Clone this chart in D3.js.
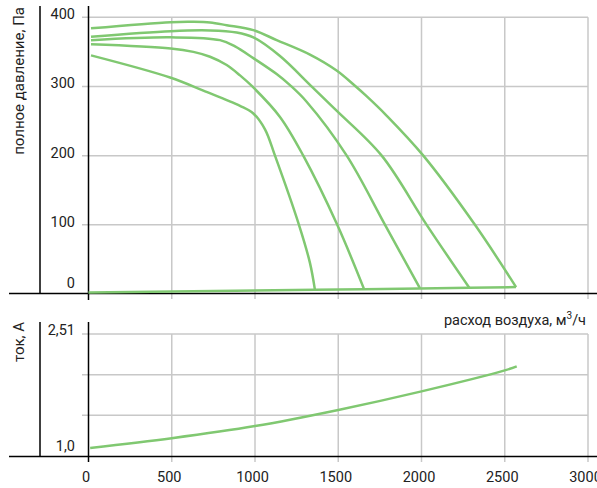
<!DOCTYPE html>
<html>
<head>
<meta charset="utf-8">
<script src="https://cdn.jsdelivr.net/npm/d3@7"></script>
<style>
  html, body { margin: 0; padding: 0; background: #fff; }
  svg { display: block; }
  text { font-family: Roboto, "Noto Sans", sans-serif; fill: #222; }
</style>
</head>
<body>
<svg id="chart" width="597" height="488"></svg>
<script>
// ---------- data ----------
const flowTicks = [0, 500, 1000, 1500, 2000, 2500, 3000];
const flowTickLabels = ["0", "500", "1000", "1500", "2000", "2500", "3000"];
const pressureTicks = [0, 100, 200, 300, 400];
const pressureTickLabels = ["0", "100", "200", "300", "400"];
const currentTicks = [1.0, 1.503, 2.007, 2.51];
const currentTickLabels = ["1,0", "", "", "2,51"];

// pressure curves: [airflow m3/h, total pressure Pa]
const curve1 = [[15,384],[494,393],[628,393.5],[730,392.5],[830,388.6],[990,381.4],[1130,367],[1330,346],[1490,323],[1600,301],[1670,286],[1790,258],[2011,200],[2321,100],[2568,10]];
const curve2 = [[15,372],[494,380],[730,381],[890,378],[990,371],[1150,344],[1336,301],[1490,265],[1761,200],[2031,100],[2287,9]];
const curve3 = [[15,367],[494,371],[790,367],[880,358],[990,341],[1130,318],[1210,302],[1310,278],[1551,200],[1781,100],[1991,8]];
const curve4 = [[15,361],[494,355],[630,350],[730,343],[830,331],[910,316],[984,300],[1150,256],[1290,200],[1494,100],[1655,7]];
const curve5 = [[15,345],[490,313],[690,294],[910,272],[990,261],[1060,238],[1120,200],[1264,100],[1330,45],[1360,6]];
const baseFlow = [0, 1360, 1655, 1991, 2287, 2568];
const basePressure = [2, 6, 7, 8, 9, 10];

// current curve
const currentFlow = [10, 500, 1000, 1500, 2000, 2500, 2572];
const currentAmps = [1.10, 1.22, 1.37, 1.57, 1.80, 2.06, 2.11];

// ---------- layout ----------
const svg = d3.select("#chart");
const green = "#80c871";
const gridColor = "#c8c8c8";

const x = d3.scaleLinear().domain([0, 3000]).range([88.5, 588]);
const yP = d3.scaleLinear().domain([0, 400]).range([294, 17.3]);
const yI = d3.scaleLinear().domain([1.0, 2.51]).range([456, 334]);

// ---------- top panel: grid ----------
const gTop = svg.append("g");
gTop.selectAll("line.hgrid").data(pressureTicks.filter(d => d > 0)).join("line")
  .attr("x1", 82).attr("x2", x(3000))
  .attr("y1", d => yP(d)).attr("y2", d => yP(d))
  .attr("stroke", gridColor).attr("stroke-width", 1.5);
gTop.selectAll("line.vgrid").data(flowTicks.filter(d => d > 0)).join("line")
  .attr("x1", d => x(d)).attr("x2", d => x(d))
  .attr("y1", yP(400)).attr("y2", 299)
  .attr("stroke", gridColor).attr("stroke-width", 1.5);

// axes lines
gTop.append("line").attr("x1", 40).attr("x2", 40).attr("y1", 6).attr("y2", 293.5)
  .attr("stroke", "#000").attr("stroke-width", 1.5);
gTop.append("line").attr("x1", x(0)).attr("x2", x(0)).attr("y1", 6).attr("y2", 300)
  .attr("stroke", "#000").attr("stroke-width", 1.5);
gTop.append("line").attr("x1", 9).attr("x2", 597).attr("y1", 293.5).attr("y2", 293.5)
  .attr("stroke", "#000").attr("stroke-width", 1.5);

// y tick labels
gTop.selectAll("text.ylab").data(pressureTicks).join("text")
  .attr("x", 75)
  .attr("y", d => d === 0 ? yP(d) - 6 : yP(d) + 2)
  .attr("text-anchor", "end")
  .attr("font-size", 14.5)
  .text((d, i) => pressureTickLabels[i]);

// y title
gTop.append("text")
  .attr("transform", "translate(24,7) rotate(-90)")
  .attr("text-anchor", "end")
  .attr("font-size", 15)
  .text("полное давление, Па");

// curves
const line = d3.line().x(d => x(d[0])).y(d => yP(d[1])).curve(d3.curveCatmullRom.alpha(0.5));
const curves = [curve1, curve2, curve3, curve4, curve5];
gTop.selectAll("path.pc").data(curves).join("path")
  .attr("d", line)
  .attr("fill", "none").attr("stroke", green).attr("stroke-width", 2.5)
  .attr("stroke-linejoin", "round");
const baseData = baseFlow.map((f, i) => [f, basePressure[i]]);
gTop.append("path").attr("d", d3.line().x(d => x(d[0])).y(d => yP(d[1]))(baseData))
  .attr("fill", "none").attr("stroke", green).attr("stroke-width", 2.5);

// ---------- bottom panel ----------
const gBot = svg.append("g");
gBot.selectAll("line.hgrid").data(currentTicks.filter(d => d > 1.0)).join("line")
  .attr("x1", 82).attr("x2", x(3000))
  .attr("y1", d => yI(d)).attr("y2", d => yI(d))
  .attr("stroke", gridColor).attr("stroke-width", 1.5);
gBot.selectAll("line.vgrid").data(flowTicks.filter(d => d > 0)).join("line")
  .attr("x1", d => x(d)).attr("x2", d => x(d))
  .attr("y1", yI(2.51)).attr("y2", 462)
  .attr("stroke", gridColor).attr("stroke-width", 1.5);

gBot.append("line").attr("x1", 40).attr("x2", 40).attr("y1", 322).attr("y2", 456.5)
  .attr("stroke", "#000").attr("stroke-width", 1.5);
gBot.append("line").attr("x1", x(0)).attr("x2", x(0)).attr("y1", 322).attr("y2", 462)
  .attr("stroke", "#000").attr("stroke-width", 1.5);
gBot.append("line").attr("x1", 9).attr("x2", 597).attr("y1", 456.5).attr("y2", 456.5)
  .attr("stroke", "#000").attr("stroke-width", 1.5);

gBot.selectAll("text.ylab").data(currentTicks).join("text")
  .attr("x", 75)
  .attr("y", d => d === 1.0 ? yI(d) - 5 : yI(d) + 1)
  .attr("text-anchor", "end")
  .attr("font-size", 14.5)
  .text((d, i) => currentTickLabels[i]);

gBot.append("text")
  .attr("transform", "translate(24,322) rotate(-90)")
  .attr("text-anchor", "end")
  .attr("font-size", 15)
  .text("ток, А");

// x tick labels
gBot.selectAll("text.xlab").data(flowTicks).join("text")
  .attr("x", d => x(d) - 2.5).attr("y", 482)
  .attr("text-anchor", "middle")
  .attr("font-size", 14.5)
  .text((d, i) => flowTickLabels[i]);

// x title
const xt = gBot.append("text")
  .attr("x", 586).attr("y", 325)
  .attr("text-anchor", "end")
  .attr("font-size", 14.5);
xt.append("tspan").text("расход воздуха, м");
xt.append("tspan").attr("dy", -6).attr("font-size", 10).text("3");
xt.append("tspan").attr("dy", 6).text("/ч");

// current curve
const curData = currentFlow.map((f, i) => [f, currentAmps[i]]);
gBot.append("path")
  .attr("d", d3.line().x(d => x(d[0])).y(d => yI(d[1])).curve(d3.curveCatmullRom.alpha(0.5))(curData))
  .attr("fill", "none").attr("stroke", green).attr("stroke-width", 2.5);
</script>
</body>
</html>
